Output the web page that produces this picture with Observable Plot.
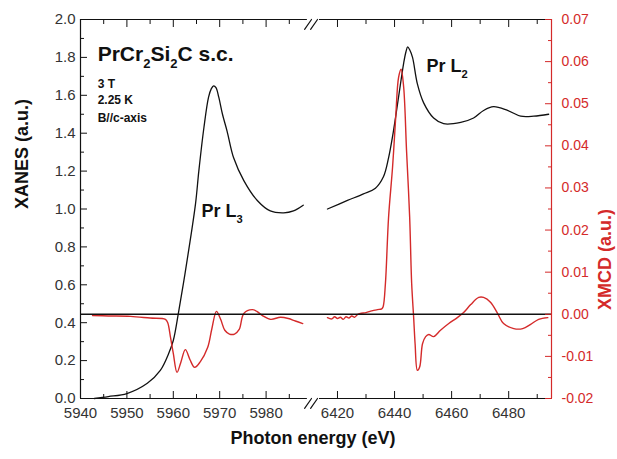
<!DOCTYPE html>
<html><head><meta charset="utf-8">
<script src="https://cdn.jsdelivr.net/npm/d3@7"></script>
<script src="https://cdn.jsdelivr.net/npm/@observablehq/plot@0.6"></script>
<style>
body{margin:0;background:#fff;}
#chart{position:relative;width:617px;height:459px;}
#chart svg{position:absolute;left:0;top:0;overflow:visible;}
</style></head><body><div id="chart"></div>
<script>
// ---------- data ----------
const l3Energy = [5943, 5946, 5950, 5954.4, 5957.2, 5959, 5960, 5961.1, 5962.2, 5963.3, 5964.8, 5965.5, 5966.6, 5967.6, 5968.2, 5968.7, 5969.2, 5969.8, 5970.6, 5971.6, 5973, 5975.2, 5978.1, 5980.9, 5983.8, 5985.9, 5988];
const l3Xanes  = [0.0, 0.01, 0.026, 0.08, 0.148, 0.237, 0.306, 0.45, 0.61, 0.78, 1.03, 1.20, 1.43, 1.59, 1.635, 1.65, 1.64, 1.59, 1.50, 1.41, 1.27, 1.15, 1.045, 0.99, 0.98, 0.99, 1.02];

const l2Energy = [6416.5, 6423.5, 6429.1, 6433.3, 6436.1, 6437.9, 6439.6, 6441.4, 6443.2, 6444.0, 6444.6, 6445.3, 6446.3, 6448, 6450.2, 6453.7, 6457.2, 6463.2, 6467.7, 6471.2, 6474.7, 6479.6, 6484.2, 6488.8, 6494];
const l2Xanes  = [1.00, 1.045, 1.08, 1.11, 1.17, 1.27, 1.41, 1.59, 1.77, 1.83, 1.855, 1.84, 1.80, 1.66, 1.56, 1.48, 1.45, 1.457, 1.48, 1.52, 1.54, 1.52, 1.49, 1.49, 1.50];

const l3McdEnergy = [5942.6, 5946, 5950.8, 5955, 5958.3, 5958.8, 5959.4, 5960, 5960.8, 5961.6, 5962.6, 5963.6, 5964.6, 5965.8, 5967.4, 5968.3, 5969.3, 5970.2, 5971.1, 5972.1, 5973.2, 5974.2, 5975.2, 5977, 5978, 5979.2, 5981, 5983.1, 5984.8, 5986.3, 5987.9];
const l3Xmcd      = [-0.0003, -0.0004, -0.0005, -0.0009, -0.0012, -0.002, -0.0055, -0.0093, -0.0138, -0.0115, -0.0084, -0.0108, -0.0126, -0.0113, -0.0079, -0.0035, 0.0007, -0.0012, -0.0038, -0.0047, -0.0047, -0.0036, 0.0002, 0.0011, 0.0007, -0.0003, -0.0012, -0.0007, -0.001, -0.0016, -0.0022];

const l2McdEnergy = [6416.5, 6418, 6419, 6420, 6421, 6422, 6423, 6424, 6425, 6426, 6427, 6428, 6430, 6432, 6434, 6435.5, 6436, 6436.8, 6437.9, 6439.3, 6440.4, 6441.4, 6442.3, 6443.2, 6444.2, 6445.3, 6446, 6446.7, 6447.2, 6448, 6448.8, 6449.8, 6450.9, 6452, 6453.7, 6456.1, 6459, 6462, 6464.2, 6466.7, 6469.5, 6471.2, 6473.7, 6476.1, 6478.2, 6481.8, 6484.9, 6487.7, 6490.5, 6493.7];
const l2Xmcd      = [-0.0008, -0.0011, -0.0006, -0.0010, -0.0007, -0.0012, -0.0006, -0.0009, -0.0004, -0.0007, -0.0001, 0.0002, 0.0004, 0.0008, 0.0011, 0.0013, 0.0018, 0.0073, 0.023, 0.0349, 0.0467, 0.0562, 0.0582, 0.0539, 0.0389, 0.023, 0.0073, -0.0008, -0.007, -0.0133, -0.0125, -0.007, -0.0053, -0.0048, -0.0053, -0.0038, -0.0022, -0.0008, 0.0004, 0.0023, 0.004, 0.004, 0.0028, 0.0002, -0.0022, -0.0034, -0.0034, -0.0024, -0.0012, -0.0008];

const xMajorTicks = [5940, 5950, 5960, 5970, 5980, 6420, 6440, 6460, 6480];
const xMinorTicks = [5945, 5955, 5965, 5975, 5985, 6430, 6450, 6470, 6490];
const yMajorTicks = [0, 0.2, 0.4, 0.6, 0.8, 1.0, 1.2, 1.4, 1.6, 1.8, 2.0];
const yMinorTicks = [0.1, 0.3, 0.5, 0.7, 0.9, 1.1, 1.3, 1.5, 1.7, 1.9];
const rMajorTicks = [-0.02, -0.01, 0, 0.01, 0.02, 0.03, 0.04, 0.05, 0.06, 0.07];
const rMinorTicks = [-0.015, -0.005, 0.005, 0.015, 0.025, 0.035, 0.045, 0.055, 0.065];

const xBreak = [5990, 6413];          // axis break: left segment end, right segment start
const xBreakLine = [5988.9, 6413.7];  // where the frame lines stop around the break

// ---------- helpers ----------
const zip = (E, V) => E.map((e, i) => ({e, v: V[i]}));
const black = "#111", red = "#d42a2a", gray = "#333";
const font = "'Liberation Sans', Arial, Helvetica, sans-serif";
const size = {width: 617, height: 459, marginLeft: 80, marginRight: 66, marginTop: 19, marginBottom: 61};
const xScale = {type: "linear", domain: [5940, xBreak[0], xBreak[1], 6495], range: [80, 312, 317, 551], axis: null};
const breakMid = (xBreak[0] + xBreak[1]) / 2;
const slash = {draw(context, l) { context.moveTo(0, l / 2); context.lineTo(0, -l / 2); }};

const plotA = Plot.plot({
  ...size,
  style: {fontFamily: font, background: "white", overflow: "visible"},
  x: xScale,
  y: {type: "linear", domain: [0, 2], axis: null},
  marks: [
    Plot.line(zip(l3Energy, l3Xanes), {x: "e", y: "v", stroke: black, strokeWidth: 1.3, curve: "catmull-rom"}),
    Plot.line(zip(l2Energy, l2Xanes), {x: "e", y: "v", stroke: black, strokeWidth: 1.3, curve: "catmull-rom"}),
    Plot.ruleX([5940], {y1: 0, y2: 2, stroke: black, strokeWidth: 1.2}),
    Plot.ruleY([0, 2], {x1: 5940, x2: xBreakLine[0], stroke: black, strokeWidth: 1.2}),
    Plot.ruleY([0, 2], {x1: xBreakLine[1], x2: 6495, stroke: black, strokeWidth: 1.2}),
    Plot.vector([0, 2], {x: breakMid, y: d => d, length: 12, rotate: 35, anchor: "middle", shape: slash, dx: -3.5, stroke: black, strokeWidth: 1.2}),
    Plot.vector([0, 2], {x: breakMid, y: d => d, length: 12, rotate: 35, anchor: "middle", shape: slash, dx: 2.5, stroke: black, strokeWidth: 1.2}),
    Plot.axisY(yMajorTicks, {tickSize: -7, fill: "none", label: null, stroke: black}),
    Plot.axisY(yMinorTicks, {tickSize: -4, fill: "none", label: null, stroke: black}),
    Plot.axisY(yMajorTicks, {tickSize: 0, tickPadding: 5, label: null, fill: gray, fontSize: 15, tickFormat: d => d.toFixed(1)}),
    Plot.axisX(xMajorTicks, {anchor: "bottom", tickSize: -7, fill: "none", label: null, stroke: black}),
    Plot.axisX(xMinorTicks, {anchor: "bottom", tickSize: -4, fill: "none", label: null, stroke: black}),
    Plot.axisX(xMajorTicks, {anchor: "bottom", tickSize: 0, tickPadding: 9, label: null, fill: gray, fontSize: 15, tickFormat: d => String(d)}),
    Plot.axisX(xMajorTicks, {anchor: "top", tickSize: -7, fill: "none", label: null, stroke: black}),
    Plot.axisX(xMinorTicks, {anchor: "top", tickSize: -4, fill: "none", label: null, stroke: black}),
    Plot.text(["XANES (a.u.)"], {frameAnchor: "left", dx: -58, rotate: -90, fontSize: 18, fontWeight: "bold", fill: black}),
    Plot.text(["Photon energy (eV)"], {frameAnchor: "bottom", dx: -3, dy: 45, fontSize: 18, fontWeight: "bold", fill: black}),
    Plot.text(["PrCr_2Si_2C s.c."], {x: 5943.7, y: 1.814, textAnchor: "start", fontSize: 21, fontWeight: "bold", fill: black}),
    Plot.text(["3 T", "2.25 K", "B//c-axis"], {x: 5943.7, y: [1.661, 1.572, 1.482], textAnchor: "start", fontSize: 12, fontWeight: "bold", fill: black}),
    Plot.text(["Pr L_3"], {x: 5966.1, y: 0.986, textAnchor: "start", fontSize: 18, fontWeight: "bold", fill: black}),
    Plot.text(["Pr L_2"], {x: 6451.2, y: 1.751, textAnchor: "start", fontSize: 18, fontWeight: "bold", fill: black})
  ]
});

const plotB = Plot.plot({
  ...size,
  style: {fontFamily: font, background: "transparent", overflow: "visible"},
  x: xScale,
  y: {type: "linear", domain: [-0.02, 0.07], axis: null},
  marks: [
    Plot.line(zip(l3McdEnergy, l3Xmcd), {x: "e", y: "v", stroke: red, strokeWidth: 1.4, curve: "catmull-rom"}),
    Plot.line(zip(l2McdEnergy, l2Xmcd), {x: "e", y: "v", stroke: red, strokeWidth: 1.4, curve: "catmull-rom"}),
    Plot.ruleY([0], {stroke: black, strokeWidth: 1.4}),
    Plot.ruleX([6495], {y1: -0.02, y2: 0.07, stroke: red, strokeWidth: 1.2}),
    Plot.axisY(rMajorTicks, {anchor: "right", tickSize: -7, fill: "none", label: null, stroke: red}),
    Plot.axisY(rMinorTicks, {anchor: "right", tickSize: -4, fill: "none", label: null, stroke: red}),
    Plot.axisY(rMajorTicks, {anchor: "right", tickSize: 0, tickPadding: 10, label: null, fill: red, fontSize: 14, tickFormat: d => d.toFixed(2)}),
    Plot.text(["XMCD (a.u.)"], {frameAnchor: "right", dx: 54, rotate: -90, fontSize: 18, fontWeight: "bold", fill: red})
  ]
});

const el = document.getElementById("chart");
el.append(plotA, plotB);

// render "_d" as subscript digits
function subscripts(svg) {
  d3.select(svg).selectAll("text").each(function() {
    const s = this.textContent;
    if (!/_\d/.test(s) || this.querySelector("tspan")) return;
    const fs = parseFloat(getComputedStyle(this).fontSize);
    const parts = s.split(/_(\d)/);
    const t = d3.select(this);
    this.textContent = "";
    let shifted = false;
    parts.forEach((p, i) => {
      if (!p) return;
      const ts = t.append("tspan").text(p);
      if (i % 2) { ts.attr("font-size", fs * 0.62).attr("dy", fs * 0.3); shifted = true; }
      else if (shifted) { ts.attr("dy", -fs * 0.3); shifted = false; }
    });
  });
}
subscripts(plotA);
</script></body></html>
